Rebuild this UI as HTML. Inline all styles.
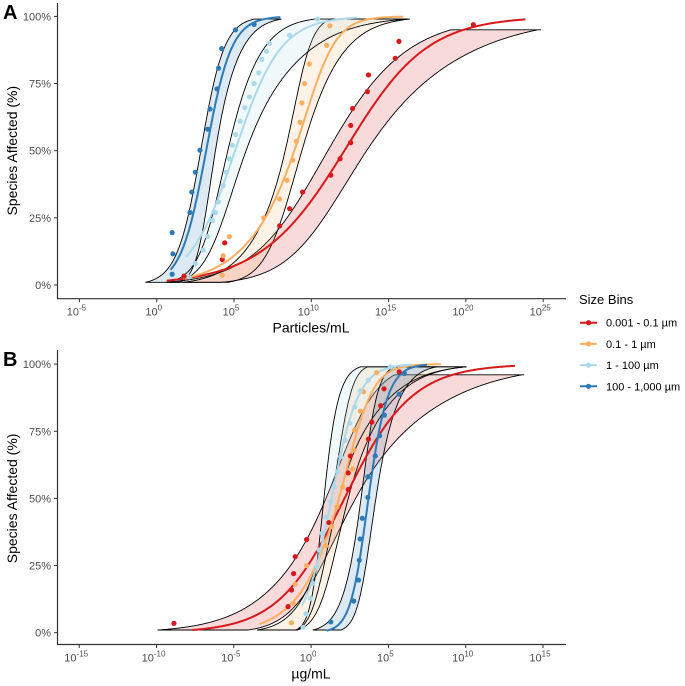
<!DOCTYPE html>
<html><head><meta charset="utf-8"><style>
html,body{margin:0;padding:0;background:#fff;}
svg{display:block;font-family:"Liberation Sans",sans-serif;}
</style></head><body>
<svg id="chart" width="685" height="686" viewBox="0 0 685 686" xmlns="http://www.w3.org/2000/svg">
<g id="panelA"></g>
<g id="panelB"></g>
<g id="legend"></g>
</svg>
<script>
// ---------- data (log10 concentration, % species affected) ----------
const seriesNames = ["0.001 - 0.1 µm","0.1 - 1 µm","1 - 100 µm","100 - 1,000 µm"];
const seriesColors = ["#d7191c","#fdae61","#abd9e9","#2c7bb6"];
const xTicksA = [-5,0,5,10,15,20,25];
const xTicksB = [-15,-10,-5,0,5,10,15];
const yTicks = [0,25,50,75,100];
const yTickLabels = ["0%","25%","50%","75%","100%"];

// Panel A points
const aRedX = [1.77,4.24,4.4,7.95,8.6,9.44,11.26,11.86,12.55,12.55,12.67,13.63,13.7,15.43,15.67,20.48];
const aRedY = [3.3,9.5,15.7,22,28.4,34.6,40.9,47,53,59.4,65.7,72,78.2,84.4,90.7,96.9];
const aOrgX = [4.24,4.3,4.7,6.92,7.95,8.43,8.79,9.03,9.27,9.39,9.56,9.87,11.0,11.2];
const aOrgY = [3.6,10.9,18,25,32,39,46.5,53.5,60.6,67.8,75,82.3,89.2,96.5];
const aLbX = [2.1,2.5,3.0,3.3,3.6,3.8,4.0,4.3,4.5,4.7,4.9,5.1,5.4,5.7,6.0,6.3,6.6,6.8,7.1,7.3,8.6,10.4];
const aLbY = [3,8,13,18,24,27,31,37,42,47,52,56,61,66,70,75,79,84,87,90,93,99];
const aDbX = [1.0,1.05,1.0,2.15,2.27,2.5,2.8,3.3,3.45,3.9,4.0,4.2,5.1,6.3];
const aDbY = [19.5,11.6,4,27,34.6,42,50.2,58,65.5,73,80.7,88,95,97];

// Panel B points
const bRedX = [-8.87,-1.49,-1.27,-1.13,-1.03,-0.29,1.15,2.4,2.4,2.54,3.71,3.93,4.5,4.72,5.7];
const bRedY = [3.5,9.7,15.9,22,28.3,34.7,41,53.3,59.5,65.8,72.1,78.4,84.5,90.8,97.1];
const bOrgX = [-1.27,-1.15,-1.03,-0.29,0.96,1.32,1.68,2.04,2.68,2.76,2.8,3.19,3.4,4.24];
const bOrgY = [3.7,10.9,18.1,25,32.4,39.5,46.9,54.3,61,68,75.4,82.5,89.7,96.8];
const bLbX = [-0.52,-0.33,-0.05,0.11,0.35,0.52,0.71,0.96,1.27,1.5,1.72,1.91,2.2,2.5,2.82,3.18,3.7,5.13];
const bLbY = [2,7,12.8,18.4,24.6,30.8,37,43,48.8,54.3,60,65.5,71.7,78,84,90,94,99];
const bDbX = [1.27,2.76,3.07,3.12,3.17,3.31,3.67,3.67,4.15,4.43,4.74,5.7,6.04];
const bDbY = [4,11.8,19.6,27,34.9,42.6,50.4,58,65.8,73.3,81,88.8,96.5];

// Fitted curve parameters per series [red, orange, lightblue, darkblue]
const aFitMid = [12.14,8.9,5.07,3.2];
const aFitLo = [2.8,1.95,1.48,0.82];
const aFitHi = [2.6,1.0,1.48,0.82];
const aFitStart = [0.65,1.7,1.9,0.9];
const aFitEnd = [23.9,16,13,8];
const aBandTop = [95,99,99,99];
const aBandLMid = [11.07,8.31,4.6,2.85];
const aBandLLo = [2.27,1.44,0.83,0.78];
const aBandLHi = [2.73,0.58,1.22,0.75];
const aBandRMid = [13.58,9.39,5.78,3.8];
const aBandRLo = [1.93,1.02,0.89,0.48];
const aBandRHi = [3.83,1.52,2.27,0.93];

const bFitMid = [2.16,1.8,1.32,3.71];
const bFitLo = [2.14,1.53,0.88,0.55];
const bFitHi = [2.2,0.87,0.87,0.65];
const bFitStart = [-7.67,-3.35,-0.6,1.0];
const bFitEnd = [13.2,8.4,6.5,7.5];
const bBandTop = [96,99,99,99];
const bBandLMid = [0.96,1.32,0.83,3.23];
const bBandLLo = [2.37,1.05,0.39,0.68];
const bBandLHi = [1.27,0.47,0.52,0.47];
const bBandRMid = [2.88,2.4,1.8,4.19];
const bBandRLo = [1.35,0.63,0.44,0.47];
const bBandRHi = [3.43,1.66,1.8,0.86];

const NS = "http://www.w3.org/2000/svg";
function mk(parent, tag, attrs){const e=document.createElementNS(NS,tag);for(const k in attrs)e.setAttribute(k,attrs[k]);parent.appendChild(e);return e;}
function logi(x,mid,lo,hi){
  const w=Math.max(0.6,(lo+hi)*0.6);
  const s=lo+(hi-lo)/(1+Math.exp(-(x-mid)/w));
  return 100/(1+Math.exp(-(x-mid)/s));
}

function drawPanel(g, cfg){
  const sx = v => cfg.x0 + 15.46*v;
  const sy = p => cfg.y0 - 2.686*p;
  const ax = mk(g,"path",{d:`M57.5,${cfg.axTop} V${cfg.axBot} H566`,fill:"none",stroke:"#333","stroke-width":1.2});
  
  
  yTicks.forEach((t,i)=>{
    const tk=mk(g,"line",{x1:54,x2:57.5,y1:sy(t),y2:sy(t),stroke:"#333"});
    
    
    const tl=mk(g,"text",{x:51,y:sy(t)+4,"text-anchor":"end","font-size":"11",fill:"#4d4d4d"});
    tl.textContent=yTickLabels[i];
    
    
  });
  cfg.xTicks.forEach(t=>{
    const tk=mk(g,"line",{x1:sx(t),x2:sx(t),y1:cfg.axBot,y2:cfg.axBot+3.5,stroke:"#333"});
    
    
    const tl=mk(g,"text",{x:sx(t)-3,y:cfg.axBot+17,"text-anchor":"middle","font-size":"11",fill:"#4d4d4d"});
    
    
    const a=mk(tl,"tspan",{});a.textContent="10";
    const b=mk(tl,"tspan",{dy:"-5","font-size":"8"});b.textContent=String(t);
  });
  const xt=mk(g,"text",{x:311,y:cfg.axBot+34,"text-anchor":"middle","font-size":"14",fill:"#000"});
  xt.textContent=cfg.xTitle;
  
  
  const cy=(cfg.y0+sy(100))/2;
  const yt=mk(g,"text",{x:17,y:cy,"text-anchor":"middle","font-size":"14",fill:"#000",transform:`rotate(-90 17 ${cy})`});
  yt.textContent="Species Affected (%)";
  
  
  const pl=mk(g,"text",{x:3,y:cfg.axTop+16,"font-size":"20","font-weight":"bold",fill:"#000"});
  pl.textContent=cfg.label;
  
  

  for(let i=0;i<4;i++){
    const top=cfg.bTop[i];
    const lo=cfg.lMid[i]-cfg.lLo[i]*Math.log(99);
    const hi=cfg.rMid[i]+cfg.rHi[i]*Math.log(top/(100-top));
    const clamp=p=>Math.max(1,Math.min(top,p));
    let pts=[];
    for(let x=lo;x<=hi;x+=0.04) pts.push([sx(x),sy(clamp(logi(x,cfg.lMid[i],cfg.lLo[i],cfg.lHi[i])))]);
    pts.push([sx(hi),sy(top)]);
    for(let x=hi;x>=lo;x-=0.04) pts.push([sx(x),sy(clamp(logi(x,cfg.rMid[i],cfg.rLo[i],cfg.rHi[i])))]);
    pts.push([sx(lo),sy(1)]);
    const band=mk(g,"path",{d:"M"+pts.map(p=>p[0].toFixed(1)+","+p[1].toFixed(1)).join("L")+"Z",fill:seriesColors[i],"fill-opacity":"0.16",stroke:"#000","stroke-width":"0.9"});
    
    
  }
  for(let i=0;i<4;i++){
    let pts=[];
    for(let x=cfg.fStart[i];x<=cfg.fEnd[i];x+=0.05) pts.push(sx(x).toFixed(1)+","+sy(logi(x,cfg.fMid[i],cfg.fLo[i],cfg.fHi[i])).toFixed(1));
    const fl=mk(g,"path",{d:"M"+pts.join("L"),fill:"none",stroke:seriesColors[i],"stroke-width":"2"});
    
    
  }
  for(let i=0;i<4;i++){
    cfg.px[i].forEach((v,j)=>{
      const c=mk(g,"circle",{cx:sx(v),cy:sy(cfg.py[i][j]),r:2.6,fill:seriesColors[i]});
      
      
    });
  }
}

drawPanel(document.getElementById("panelA"),{
  x0:156.7,y0:285,axTop:3,axBot:298.7,xTicks:xTicksA,xTitle:"Particles/mL",label:"A",
  bTop:aBandTop,lMid:aBandLMid,lLo:aBandLLo,lHi:aBandLHi,rMid:aBandRMid,rLo:aBandRLo,rHi:aBandRHi,
  fMid:aFitMid,fLo:aFitLo,fHi:aFitHi,fStart:aFitStart,fEnd:aFitEnd,
  px:[aRedX,aOrgX,aLbX,aDbX],py:[aRedY,aOrgY,aLbY,aDbY]});
drawPanel(document.getElementById("panelB"),{
  x0:311.1,y0:632.7,axTop:350,axBot:644.5,xTicks:xTicksB,xTitle:"µg/mL",label:"B",
  bTop:bBandTop,lMid:bBandLMid,lLo:bBandLLo,lHi:bBandLHi,rMid:bBandRMid,rLo:bBandRLo,rHi:bBandRHi,
  fMid:bFitMid,fLo:bFitLo,fHi:bFitHi,fStart:bFitStart,fEnd:bFitEnd,
  px:[bRedX,bOrgX,bLbX,bDbX],py:[bRedY,bOrgY,bLbY,bDbY]});

const lg=document.getElementById("legend");
const lt=mk(lg,"text",{x:579,y:304,"font-size":"13",fill:"#000"});
lt.textContent="Size Bins";


seriesNames.forEach((n,i)=>{
  const y=322.7+21.2*i;
  const e=mk(lg,"g",{});
  
  
  mk(e,"line",{x1:580,x2:597,y1:y,y2:y,stroke:seriesColors[i],"stroke-width":"2"});
  mk(e,"circle",{cx:588.5,cy:y,r:2.6,fill:seriesColors[i]});
  const t=mk(e,"text",{x:606,y:y+4,"font-size":"11",fill:"#000"});t.textContent=n;
});
</script>
</body></html>
